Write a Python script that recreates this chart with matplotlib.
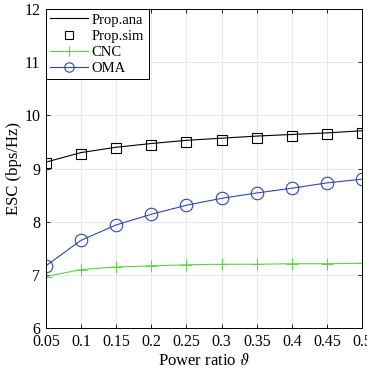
import matplotlib
matplotlib.use("Agg")
import matplotlib.pyplot as plt

plt.rcParams['font.family'] = ['Liberation Serif', 'DejaVu Serif']
plt.rcParams['mathtext.fontset'] = 'stix'

ratio = [0.05, 0.1, 0.15, 0.2, 0.25, 0.3, 0.35, 0.4, 0.45, 0.5]
prop_ana = [9.12, 9.30, 9.40, 9.47, 9.53, 9.57, 9.61, 9.64, 9.67, 9.71]
prop_sim = [9.10, 9.28, 9.38, 9.44, 9.49, 9.54, 9.58, 9.61, 9.64, 9.67]
cnc = [6.97, 7.10, 7.15, 7.17, 7.19, 7.20, 7.20, 7.21, 7.21, 7.22]
oma = [7.17, 7.65, 7.94, 8.14, 8.31, 8.44, 8.54, 8.63, 8.73, 8.80]

fig = plt.figure(figsize=(3.67, 3.72), dpi=100)
ax = fig.add_axes([0.125, 0.118, 0.862, 0.858])

ax.plot(ratio, prop_ana, color='black', lw=0.8, label='Prop.ana')
ax.plot(ratio, prop_sim, ls='none', marker='s', ms=7, mfc='none', mec='black', mew=0.8, label='Prop.sim')
ax.plot(ratio, cnc, color='#5fd34a', lw=0.8, marker='+', ms=9, mew=0.8, label='CNC')
ax.plot(ratio, oma, color='#2f45b4', lw=0.8, marker='o', ms=9, mfc='none', mew=0.8, label='OMA')

ax.set_xlim(0.05, 0.5)
ax.set_ylim(6, 12)
ax.set_xticks(ratio)
ax.set_xticklabels(['0.05', '0.1', '0.15', '0.2', '0.25', '0.3', '0.35', '0.4', '0.45', '0.5'])
ax.set_yticks([6, 7, 8, 9, 10, 11, 12])
ax.tick_params(direction='in', top=True, right=True, labelsize=11.5, length=3, width=0.6)
ax.tick_params(axis='x', pad=4.5)
ax.tick_params(axis='y', pad=4)
ax.grid(True, color='#e6e6e6', lw=0.6)
ax.set_axisbelow(True)
for s in ax.spines.values():
    s.set_linewidth(0.7)
ax.set_xlabel(r'Power ratio $\vartheta$', fontsize=12, labelpad=2)
ax.set_ylabel('ESC (bps/Hz)', fontsize=12, labelpad=2)

leg = ax.legend(loc='upper left', fontsize=10.5, fancybox=False, edgecolor='black',
                framealpha=1, borderaxespad=0, handlelength=2.6, borderpad=0.3,
                labelspacing=0.2, handletextpad=0.25, markerscale=0.75)
leg.get_frame().set_linewidth(0.7)

fig.savefig('out.png', dpi=100)
